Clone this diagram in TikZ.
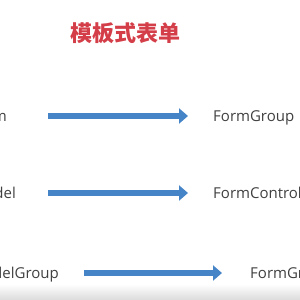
\documentclass[tikz,border=0pt]{standalone}
\usepackage{fontspec}
\setmainfont{Open Sans}
\newfontfamily\cjk{Noto Sans CJK SC}
\usetikzlibrary{arrows.meta,positioning}
\definecolor{titlered}{RGB}{212,62,72}
\definecolor{arrowblue}{RGB}{70,132,200}
\definecolor{textgray}{RGB}{64,64,64}
\begin{document}
\begin{tikzpicture}[
  x=1pt, y=-1pt,
  label/.style={font=\fontsize{15}{17}\selectfont, text=textgray, inner sep=0pt, anchor=base west},
  bigarrow/.style={-{Triangle[length=9pt,width=15pt]}, line width=6pt, draw=arrowblue}
]
\useasboundingbox (0,0) rectangle (300,300);
\clip (0,0) rectangle (300,300);
% bottom shade
\shade[top color=white, bottom color=black!14] (0,284) rectangle (300,300);
\node[font=\cjk\bfseries\fontsize{22}{24}\selectfont, text=titlered, inner sep=0pt] (title) at (125,33) {模板式表单};
% row 1
\node[label, anchor=base east] (ngform) at (7,121) {m};
\coordinate (a1) at (48,116);
\coordinate (b1) at (188,116);
\node[label] (group) at (213,121) {FormGroup};
\draw[bigarrow] (a1) -- (b1);
% row 2
\node[label, anchor=base east] (ngmodel) at (16,198) {del};
\coordinate (a2) at (48,193);
\coordinate (b2) at (188,193);
\node[label] (control) at (213,198) {FormControl};
\draw[bigarrow] (a2) -- (b2);
% row 3
\node[label, anchor=base east] (ngmodelgroup) at (59,278) {delGroup};
\coordinate (a3) at (84,273);
\coordinate (b3) at (222,273);
\node[label] (group2) at (250,278) {FormGr};
\draw[bigarrow] (a3) -- (b3);
\end{tikzpicture}
\end{document}
